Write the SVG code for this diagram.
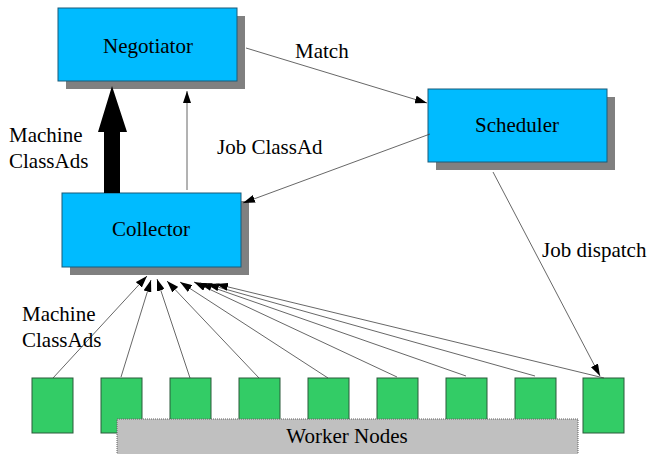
<svg xmlns="http://www.w3.org/2000/svg" width="652" height="454" viewBox="0 0 652 454">
<style>
text{font-family:"Times New Roman","Liberation Serif","Noto Serif","DejaVu Serif",Times,serif;font-size:21px;fill:#000}
.shadow{fill:#808080}
.box{fill:#00BBFF;stroke:#1a5a78;stroke-width:1}
.wn{fill:#33CC66;stroke:#2a5a3a;stroke-width:1}
.c{stroke:#404040;stroke-width:0.8;fill:none;marker-end:url(#ah)}
</style>
<defs>
<marker id="ah" viewBox="0 0 12 8" refX="12" refY="4" markerWidth="12" markerHeight="8" markerUnits="userSpaceOnUse" orient="auto">
<path d="M0,0 L12,4 L0,8 Z" fill="#000"/>
</marker>
</defs>
<rect width="652" height="454" fill="#fff"/>
<g id="workers">
<rect class="wn" x="32" y="378" width="41" height="55"/>
<rect class="wn" x="101" y="378" width="41" height="55"/>
<rect class="wn" x="170" y="378" width="41" height="55"/>
<rect class="wn" x="239" y="378" width="41" height="55"/>
<rect class="wn" x="308" y="378" width="41" height="55"/>
<rect class="wn" x="377" y="378" width="41" height="55"/>
<rect class="wn" x="446" y="378" width="41" height="55"/>
<rect class="wn" x="515" y="378" width="41" height="55"/>
<rect class="wn" x="583" y="378" width="41" height="55"/>
</g>
<g id="worker-nodes-bg">
<rect x="117" y="419" width="461" height="40" fill="#C0C0C0" stroke="#606060" stroke-width="1" stroke-dasharray="1,1"/>
<text x="347" y="443" text-anchor="middle">Worker Nodes</text>
</g>
<g id="negotiator">
<rect class="shadow" x="66" y="16" width="179" height="73"/>
<rect class="box" x="58" y="8" width="179" height="73"/>
<text x="148" y="53" text-anchor="middle">Negotiator</text>
</g>
<g id="scheduler">
<rect class="shadow" x="436" y="97" width="179" height="73"/>
<rect class="box" x="428" y="89" width="179" height="73"/>
<text x="517" y="132" text-anchor="middle">Scheduler</text>
</g>
<g id="collector">
<rect class="shadow" x="70" y="201" width="179" height="74"/>
<rect class="box" x="62" y="193" width="179" height="74"/>
<text x="151" y="236" text-anchor="middle">Collector</text>
</g>
<g id="connectors">
<polygon points="104,193 120,193 120,132 127,132 112,86 98,132 104,132" fill="#000"/>
<line class="c" x1="187" y1="190" x2="187" y2="91"/>
<line class="c" x1="246" y1="48" x2="427" y2="103"/>
<line class="c" x1="430" y1="134" x2="243" y2="203"/>
<line class="c" x1="493" y1="172" x2="600" y2="376"/>
<line class="c" x1="53" y1="378" x2="147" y2="276"/>
<line class="c" x1="121" y1="377" x2="151" y2="280"/>
<line class="c" x1="190" y1="378" x2="157" y2="279"/>
<line class="c" x1="259" y1="378" x2="167" y2="281"/>
<line class="c" x1="328" y1="378" x2="180" y2="282"/>
<line class="c" x1="397" y1="377" x2="194" y2="282"/>
<line class="c" x1="466" y1="376" x2="200" y2="283"/>
<line class="c" x1="535" y1="376" x2="207" y2="284"/>
<line class="c" x1="604" y1="378" x2="216" y2="284"/>
</g>
<g id="labels">
<text x="9" y="142">Machine</text>
<text x="9" y="168">ClassAds</text>
<text x="295" y="58">Match</text>
<text x="217" y="154">Job ClassAd</text>
<text x="542" y="257">Job dispatch</text>
<text x="22" y="321">Machine</text>
<text x="22" y="347">ClassAds</text>
</g>
</svg>
